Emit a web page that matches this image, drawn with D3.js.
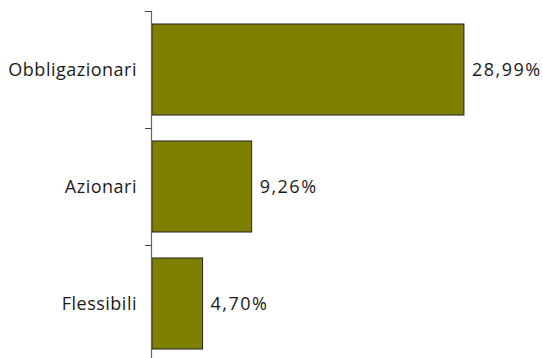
<!DOCTYPE html>
<html>
<head>
<meta charset="utf-8">
<script src="https://cdn.jsdelivr.net/npm/d3@7"></script>
<style>
  body { margin: 0; background: #fff; }
  text { font-family: "Open Sans", sans-serif; fill: #1a1a1a; }
</style>
</head>
<body>
<div id="chart"></div>
<script>
var categories = ["Obbligazionari", "Azionari", "Flessibili"];
var values = [28.99, 9.26, 4.70];
var valueLabels = ["28,99%", "9,26%", "4,70%"];

var width = 543, height = 358;
var svg = d3.select("#chart").append("svg")
  .attr("width", width)
  .attr("height", height);

var x = d3.scaleLinear().domain([0, 30]).range([152, 474.8]);
var y = d3.scaleBand().domain(categories).range([11, 362])
  .paddingInner(0.222).paddingOuter(0.111);

// bars
svg.selectAll("rect.bar")
  .data(values)
  .enter().append("rect")
  .attr("class", "bar")
  .attr("x", x(0))
  .attr("y", function(d, i) { return y(categories[i]); })
  .attr("width", function(d) { return x(d) - x(0); })
  .attr("height", y.bandwidth())
  .attr("fill", "#808000")
  .attr("stroke", "#222")
  .attr("stroke-width", 1);

// axis line and ticks between categories
var step = y.step();
var bounds = categories.map(function(c) { return y(c) - y.paddingInner() * step / 2; });
bounds.push(bounds[bounds.length - 1] + step);
svg.append("line")
  .attr("x1", 151.5).attr("x2", 151.5)
  .attr("y1", bounds[0]).attr("y2", height)
  .attr("stroke", "#666").attr("stroke-width", 1.2);
svg.selectAll("line.tick")
  .data(bounds)
  .enter().append("line")
  .attr("class", "tick")
  .attr("x1", 145).attr("x2", 152)
  .attr("y1", function(d) { return Math.round(d) + 0.5; })
  .attr("y2", function(d) { return Math.round(d) + 0.5; })
  .attr("stroke", "#444");

// category labels
svg.selectAll("text.cat")
  .data(categories)
  .enter().append("text")
  .attr("class", "cat")
  .attr("x", 137)
  .attr("y", function(d) { return y(d) + y.bandwidth() / 2; })
  .attr("dy", "0.38em")
  .attr("text-anchor", "end")
  .style("font-size", "18px")
  .style("letter-spacing", "0.5px")
  .text(function(d) { return d; });

// value labels
svg.selectAll("text.val")
  .data(values)
  .enter().append("text")
  .attr("class", "val")
  .attr("x", function(d) { return x(d) + 8; })
  .attr("y", function(d, i) { return y(categories[i]) + y.bandwidth() / 2; })
  .attr("dy", "0.38em")
  .style("font-size", "18px")
  .style("letter-spacing", "1.5px")
  .text(function(d, i) { return valueLabels[i]; });
</script>
</body>
</html>
